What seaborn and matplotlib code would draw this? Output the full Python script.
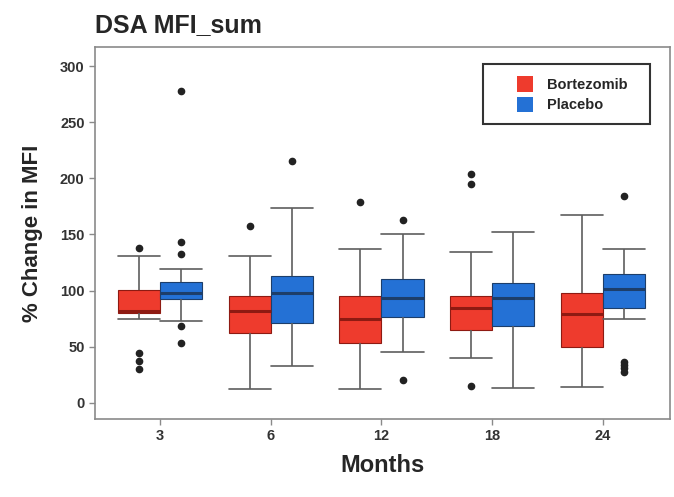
import matplotlib

matplotlib.use("Agg")
import pandas as pd
import seaborn as sns
from matplotlib import pyplot as plt
from matplotlib.legend_handler import HandlerPatch
from matplotlib.patches import Patch, Rectangle

# values (box summary per month and arm)
months = ["3", "6", "12", "18", "24"]
groups = ["Bortezomib", "Placebo"]

bort_whislo = [74.3, 12.5, 12.2, 40.1, 14.3]
bort_q1 = [79.6, 61.8, 52.9, 65.0, 49.6]
bort_med = [82.0, 81.7, 74.9, 84.1, 78.7]
bort_q3 = [100.4, 95.1, 95.4, 95.1, 98.0]
bort_whishi = [130.7, 130.7, 137.0, 134.5, 167.8]
bort_fliers = [[137.8, 44.0, 37.4, 30.0], [157.4], [179.4], [203.5, 194.6, 15.1], []]

plac_whislo = [72.8, 32.7, 44.9, 13.4, 74.3]
plac_q1 = [92.7, 70.7, 76.4, 68.6, 84.7]
plac_med = [98.0, 98.0, 93.6, 93.6, 101.3]
plac_q3 = [107.3, 112.9, 110.0, 106.4, 114.7]
plac_whishi = [118.8, 173.5, 150.3, 152.1, 137.0]
plac_fliers = [[277.7, 143.5, 132.5, 68.3, 52.9], [215.6], [162.5, 20.5], [], [184.5, 36.5, 33.6, 30.6, 27.6]]

colors = {"Bortezomib": "#EE3B2D", "Placebo": "#2471D5"}
medians = {"Bortezomib": "#8E1A12", "Placebo": "#1D3E6A"}


def expand(lo, q1, med, q3, hi, fliers, m=20):
    low = sorted(f for f in fliers if f < lo)
    high = sorted(f for f in fliers if f > hi)
    return low + [lo] + [q1] * m + [med] * m + [q3] * m + [hi] + high


def square_handle(legend, orig_handle, xdescent, ydescent, width, height, fontsize):
    # square swatch pushed to the right end of the handle box
    return Rectangle((width - height - xdescent, -ydescent), height, height)


rows = []
for group, stats in [
    ("Bortezomib", zip(bort_whislo, bort_q1, bort_med, bort_q3, bort_whishi, bort_fliers)),
    ("Placebo", zip(plac_whislo, plac_q1, plac_med, plac_q3, plac_whishi, plac_fliers)),
]:
    for month, s in zip(months, stats):
        for v in expand(*s):
            rows.append({"Months": month, "group": group, "value": v})
df = pd.DataFrame(rows)

sns.set_theme(style="white")
plt.rcParams["font.family"] = ["Liberation Sans", "DejaVu Sans"]

fig = plt.figure(figsize=(6.74, 4.97), dpi=100)
ax = fig.add_axes([0.141, 0.157, 0.853, 0.748])

for group in groups:
    sns.boxplot(
        data=df[df["group"] == group],
        x="Months",
        y="value",
        hue="group",
        order=months,
        hue_order=groups,
        palette=colors,
        dodge=True,
        width=0.76,
        gap=0,
        saturation=1,
        linewidth=1.2,
        linecolor="#5e5e5e",
        fliersize=4.5,
        flierprops={"marker": "o", "markerfacecolor": "#222222", "markeredgecolor": "#222222"},
        medianprops={"color": medians[group], "linewidth": 2.2},
        boxprops={"edgecolor": medians[group], "linewidth": 0.8},
        capwidths=0.38,
        legend=False,
        ax=ax,
    )

ax.set_xlim(-0.587, 4.605)
ax.set_ylim(-14.5, 317)
ax.set_yticks([0, 50, 100, 150, 200, 250, 300])

for spine in ax.spines.values():
    spine.set_color("#8a8a8a")
    spine.set_linewidth(1.2)

ax.tick_params(axis="both", which="both", length=4, width=1, color="#8a8a8a",
               labelsize=10.5, labelcolor="#333333", bottom=True, left=True)
for lab in ax.get_xticklabels() + ax.get_yticklabels():
    lab.set_fontweight("bold")

ax.set_xlabel("Months", fontsize=17, fontweight="bold", labelpad=8)
ax.set_ylabel("% Change in MFI", fontsize=16, fontweight="bold", labelpad=12)
ax.set_title("DSA MFI_sum", loc="left", fontsize=18, fontweight="bold", pad=11)

handles = [Patch(facecolor=colors[g], edgecolor="none") for g in groups]
leg = ax.legend(
    handles, groups,
    loc="upper left",
    bbox_to_anchor=(0.675, 0.954, 0.290, 0.0),
    mode="expand",
    borderaxespad=0,
    frameon=True,
    fancybox=False,
    prop={"weight": "bold", "size": 10.5},
    handler_map={Patch: HandlerPatch(patch_func=square_handle)},
    handlelength=2.6,
    handleheight=1.3,
    handletextpad=1.0,
    labelspacing=0.32,
    borderpad=0.8,
)
leg.get_frame().set_edgecolor("black")
leg.get_frame().set_linewidth(1.5)

fig.savefig("out.png", dpi=100)
